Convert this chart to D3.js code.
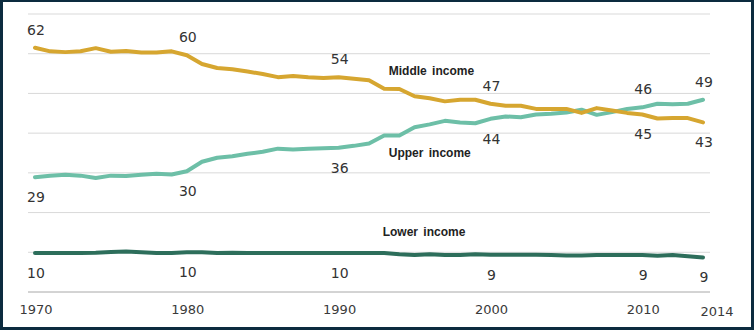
<!DOCTYPE html>
<html>
<head>
<meta charset="utf-8">
<script src="https://cdn.jsdelivr.net/npm/d3@7"></script>
<style>
  html, body { margin: 0; padding: 0; background: #0c2b3f; }
  svg { display: block; }
  .num { font-family: "DejaVu Sans", Verdana, sans-serif; font-size: 14px; fill: #333; }
  .year { font-family: "DejaVu Sans", Verdana, sans-serif; font-size: 13px; fill: #3a3a3a; }
  .series { font-family: "Liberation Sans", Arial, sans-serif; font-size: 12px; font-weight: bold; fill: #222; word-spacing: 2px; }
</style>
</head>
<body>
<div id="vis"></div>
<script>
// share of aggregate household income, 1970-2014
var years = d3.range(1970, 2015);

var middleIncome = [61.5, 60.6, 60.4, 60.6, 61.4, 60.5, 60.7, 60.3, 60.3, 60.6,
  59.6, 57.4, 56.4, 56.1, 55.5, 54.9, 54.1, 54.4, 54.1, 53.9,
  54.1, 53.7, 53.3, 51.2, 51.1, 49.3, 48.8, 48.0, 48.4, 48.4,
  47.4, 46.9, 46.9, 46.1, 46.1, 46.1, 45.1, 46.3, 45.7, 45.1,
  44.7, 43.7, 43.8, 43.8, 42.7];

var upperIncome = [28.9, 29.3, 29.5, 29.3, 28.7, 29.3, 29.2, 29.5, 29.8, 29.6,
  30.4, 32.8, 33.8, 34.2, 34.8, 35.3, 36.1, 35.9, 36.1, 36.2,
  36.3, 36.8, 37.4, 39.4, 39.4, 41.5, 42.2, 43.1, 42.7, 42.5,
  43.6, 44.2, 44.0, 44.7, 44.9, 45.2, 45.9, 44.6, 45.3, 46.1,
  46.5, 47.4, 47.3, 47.4, 48.4];

var lowerIncome = [9.8, 9.8, 9.8, 9.8, 9.9, 10.1, 10.2, 10.0, 9.8, 9.8,
  10.0, 10.0, 9.8, 9.9, 9.8, 9.8, 9.8, 9.8, 9.8, 9.8,
  9.8, 9.8, 9.8, 9.8, 9.5, 9.3, 9.5, 9.3, 9.3, 9.5,
  9.4, 9.4, 9.4, 9.4, 9.3, 9.2, 9.2, 9.3, 9.3, 9.3,
  9.3, 9.1, 9.3, 9.0, 8.7];

var tickYears = [1970, 1980, 1990, 2000, 2010, 2014];
var gridValues = [0, 10, 20, 30, 40, 50, 60, 70];

// value labels: year, text, above/below
var middleLabels = [[1970, '62', 'up'], [1980, '60', 'up'], [1990, '54', 'up'], [2000, '47', 'up'], [2010, '45', 'down'], [2014, '43', 'down']];
var upperLabels = [[1970, '29', 'down'], [1980, '30', 'down'], [1990, '36', 'down'], [2000, '44', 'down'], [2010, '46', 'up'], [2014, '49', 'up']];
var lowerLabels = [[1970, '10', 'down'], [1980, '10', 'down'], [1990, '10', 'down'], [2000, '9', 'down'], [2010, '9', 'down'], [2014, '9', 'down']];

var width = 754;
var height = 330;

var svg = d3.select('#vis').append('svg')
  .attr('width', width)
  .attr('height', height);

svg.append('rect')
  .attr('x', 3).attr('y', 2)
  .attr('width', width - 6).attr('height', height - 5)
  .attr('fill', '#fff');

var x = d3.scaleLinear().domain([1970, 2014]).range([35, 703]);
var y = d3.scaleLinear().domain([0, 70]).range([292, 14]);

svg.selectAll('.grid')
  .data(gridValues)
  .enter().append('line')
  .attr('class', 'grid')
  .attr('x1', x(1970) - 7).attr('x2', x(2014) + 7)
  .attr('y1', function (d) { return y(d); })
  .attr('y2', function (d) { return y(d); })
  .attr('stroke', function (d) { return d === 0 ? '#a8a8a8' : '#d9d9d9'; })
  .attr('stroke-width', 1);

svg.selectAll('.year')
  .data(tickYears)
  .enter().append('text')
  .attr('class', 'year')
  .attr('x', function (d) { return x(d) + (d === 2014 ? 14 : 1); })
  .attr('y', function (d) { return d === 2014 ? 316 : 314; })
  .attr('text-anchor', 'middle')
  .text(function (d) { return d; });

var series = [
  { name: 'Lower income', values: lowerIncome, color: '#2d6e5b', labels: lowerLabels },
  { name: 'Upper income', values: upperIncome, color: '#6dbfa7', labels: upperLabels },
  { name: 'Middle income', values: middleIncome, color: '#d6a630', labels: middleLabels }
];

var line = d3.line()
  .x(function (d, i) { return x(years[i]); })
  .y(function (d) { return y(d); });

svg.selectAll('.series-line')
  .data(series)
  .enter().append('path')
  .attr('class', 'series-line')
  .attr('d', function (d) { return line(d.values); })
  .attr('fill', 'none')
  .attr('stroke', function (d) { return d.color; })
  .attr('stroke-width', 4)
  .attr('stroke-linejoin', 'round')
  .attr('stroke-linecap', 'round');

series.forEach(function (s) {
  svg.selectAll(null)
    .data(s.labels)
    .enter().append('text')
    .attr('class', 'num')
    .attr('x', function (d) { return x(d[0]) + 1; })
    .attr('y', function (d) {
      var v = s.values[years.indexOf(d[0])];
      return d[2] === 'up' ? y(v) - 13 : y(v) + 25;
    })
    .attr('text-anchor', 'middle')
    .text(function (d) { return d[1]; });
});

// series names
var names = [
  { text: 'Middle income', year: 1993.3, value: 54.6 },
  { text: 'Upper income', year: 1993.3, value: 34.0 },
  { text: 'Lower income', year: 1992.9, value: 14.1 }
];

svg.selectAll('.series')
  .data(names)
  .enter().append('text')
  .attr('class', 'series')
  .attr('x', function (d) { return x(d.year); })
  .attr('y', function (d) { return y(d.value); })
  .text(function (d) { return d.text; });
</script>
</body>
</html>
